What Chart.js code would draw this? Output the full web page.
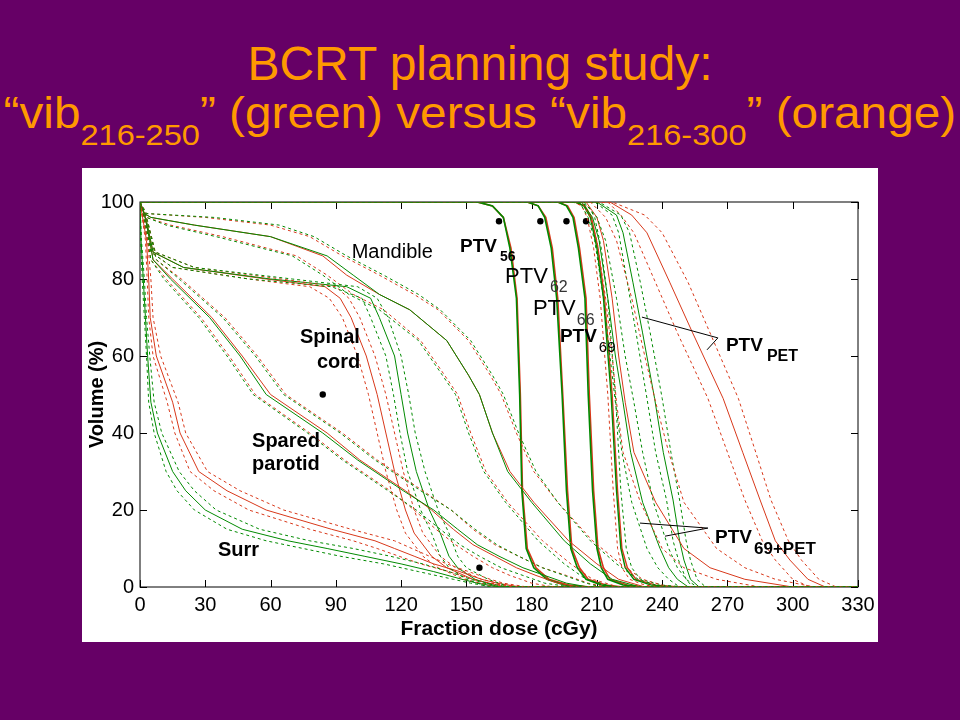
<!DOCTYPE html>
<html>
<head>
<meta charset="utf-8">
<script src="https://cdn.jsdelivr.net/npm/chart.js@4.4.1/dist/chart.umd.min.js"></script>
<style>
  html, body { margin: 0; padding: 0; }
  body { width: 960px; height: 720px; background: #660066; position: relative; overflow: hidden;
         font-family: "Liberation Sans", Arial, sans-serif; }
  .title { position: absolute; left: 0; width: 960px; text-align: center; color: #ff9900;
           white-space: nowrap; transform-origin: 482px 0; }
  .t1 { top: 40px; font-size: 48px; line-height: 48px; }
  .t2 { top: 91px; font-size: 44px; line-height: 44px; transform: scaleX(1.085); }
  .t2 sub { font-size: 30px; position: relative; top: 17px; vertical-align: baseline; line-height: 0; }
  #panel { position: absolute; left: 82px; top: 168px; width: 796px; height: 474px; background: #fff; }
</style>
</head>
<body>
<div class="title t1">BCRT planning study:</div>
<div class="title t2">&ldquo;vib<sub>216-250</sub>&rdquo; (green) versus &ldquo;vib<sub>216-300</sub>&rdquo; (orange)</div>
<div id="panel"><canvas id="chart" width="796" height="474"></canvas></div>
<script>
// dose (cGy) at which each volume level (%) is reached
const xTicks = [0, 30, 60, 90, 120, 150, 180, 210, 240, 270, 300, 330]
const yTicks = [0, 20, 40, 60, 80, 100]

const surrVol = [100, 90, 80, 70, 60, 48, 40, 30, 25, 20, 15, 12, 10, 8, 6, 4, 2, 1, 0, 0]
const surrG   = [0, 0.5, 1.5, 2.5, 3.5, 5, 8, 15, 21, 30, 47, 68, 86, 103, 120, 135, 148, 155, 165, 330]
const surrGHi = [0, 0.7, 2, 3, 4.5, 6.5, 10, 18, 25, 35, 55, 78, 98, 115, 130, 142, 152, 158, 170, 330]
const surrGLo = [0, 0.3, 1, 2, 3, 4, 6.5, 12, 17, 25, 40, 58, 75, 92, 112, 128, 144, 152, 162, 330]
const surrR   = [0, 3, 4, 4.7, 7.5, 15, 18.4, 27, 40, 58, 88, 108, 117, 126, 135, 147, 157, 164, 175, 330]
const surrRHi = [0, 3.5, 5, 6, 9.5, 17.5, 21, 31, 46, 66, 97, 117, 125, 133, 141, 151, 161, 167, 178, 330]
const surrRLo = [0, 2.5, 3.3, 4, 6, 12.5, 16, 23, 34, 50, 78, 98, 109, 119, 129, 142, 153, 161, 172, 330]

const parVol = [100, 97, 90, 85, 80, 70, 60, 50, 40, 33, 25, 20, 15, 11, 8, 5, 3, 1, 0, 0]
const parG   = [0, 2, 4.5, 6, 14, 32, 46, 58, 84, 100, 121, 135, 146, 155, 165, 176, 186, 196, 206, 330]
const parGHi = [0, 2.5, 5.5, 7.5, 18, 38, 53, 66, 92, 108, 129, 143, 154, 164, 174, 185, 195, 205, 212, 330]
const parGLo = [0, 1.5, 3.5, 5, 11, 27, 40, 52, 77, 93, 114, 127, 138, 147, 156, 166, 176, 186, 198, 330]
const parR   = [0, 2, 4.5, 6, 15, 33, 47, 60, 86, 101, 122, 134, 144, 153, 163, 173, 182, 192, 202, 330]
const parRHi = [0, 2.5, 5.5, 7.5, 19, 39, 54, 67, 93, 109, 130, 143, 153, 163, 174, 185, 196, 206, 214, 330]
const parRLo = [0, 1.5, 3.5, 5, 12, 28, 41, 53, 78, 94, 115, 126, 136, 145, 153, 162, 170, 180, 190, 330]

const cordVol = [100, 95, 87, 83, 80, 78, 75, 70, 60, 50, 40, 30, 20, 14, 8, 5, 2, 0, 0]
const cordG   = [0, 3, 6, 20, 60, 95, 106, 110, 117, 120, 123, 127, 133, 138, 142, 146, 154, 165, 330]
const cordGHi = [0, 3.5, 7, 25, 70, 100, 109, 114, 120, 123.5, 126.5, 131, 137, 142, 146, 150, 160, 170, 330]
const cordGLo = [0, 2.5, 5, 15, 50, 88, 102, 106, 113, 116.5, 119.5, 123, 129, 134, 138, 142, 150, 160, 330]
const cordR   = [0, 3, 6, 20, 58, 85, 92, 97, 104, 109, 113, 117, 122, 126, 134, 141, 153, 168, 330]
const cordRHi = [0, 3.5, 7, 25, 65, 90, 96, 101, 108, 113, 117, 121, 126, 130, 138, 145, 157, 172, 330]
const cordRLo = [0, 2.5, 5, 15, 50, 78, 87, 93, 100, 105, 109, 113, 118, 122, 130, 137, 149, 164, 330]

const manVol = [100, 97, 96, 94, 91, 86, 81, 76, 72, 64, 55, 50, 40, 30, 22, 12, 6, 2, 0, 0]
const manG   = [0, 2, 5, 25, 60, 86, 98, 110, 124, 141, 151, 156, 162, 169, 180, 195, 207, 217, 230, 330]
const manGHi = [0, 3, 34, 64, 80, 95, 112, 128, 138, 152, 162, 167, 174, 182, 192, 207, 219, 229, 240, 330]
const manGLo = [0, 1.5, 3, 12, 35, 70, 84, 96, 110, 128, 139, 145, 151, 158, 168, 183, 195, 205, 218, 330]
const manR   = [0, 2, 5, 25, 60, 84, 95, 110, 124, 141, 151, 156, 162, 170, 181, 197, 210, 220, 232, 330]
const manRHi = [0, 3, 30, 60, 78, 93, 110, 126, 137, 151, 161, 166, 173, 181, 192, 208, 221, 231, 243, 330]
const manRLo = [0, 1.5, 3, 14, 38, 72, 86, 98, 112, 129, 140, 146, 152, 159, 169, 185, 198, 208, 220, 330]

const ptvVol = [100, 100, 99, 96, 88, 75, 50, 25, 10, 5, 2, 0.5, 0, 0]
const ptv56G = [0, 155, 162, 167, 170, 173, 174.5, 175.5, 177.5, 181, 187, 195, 205, 330]
const ptv56R = [0, 155, 162, 167, 170.5, 173.3, 174.8, 175.8, 178, 182, 188, 197, 207, 330]
const ptv62G = [0, 178, 183, 186, 189, 191.5, 194, 196, 198, 201, 205, 212, 220, 330]
const ptv62R = [0, 178, 183, 186.5, 189.5, 192, 194.3, 196.5, 198.5, 202, 206, 214, 222, 330]
const ptv66G = [0, 192, 196, 199, 201.5, 204.5, 206, 208, 210, 212, 215, 222, 230, 330]
const ptv66R = [0, 192, 196.5, 199.5, 202, 205, 206.5, 208.5, 210.5, 213, 216, 224, 232, 330]
const ptv69G = [0, 200, 204, 207, 210, 213, 216.5, 219, 221, 223, 227, 235, 245, 330]
const ptv69R = [0, 200, 204.5, 207.5, 210.5, 213.5, 217, 219.5, 221.5, 224, 228, 237, 248, 330]
const ptv69Hi = [0, 201, 206, 209, 212, 215, 218.5, 221, 223.5, 226, 230, 240, 250, 330]
const ptv69Lo = [0, 199, 203, 205.5, 208.5, 211.5, 215, 217.5, 219.5, 221.5, 225, 232, 240, 330]

const bothVol = [100, 100, 96, 90, 75, 60, 48, 35, 22, 10, 5, 2, 0, 0]
const bothG   = [0, 203, 208, 211, 215, 218.5, 222, 225.5, 231, 239, 243, 247, 252, 330]
const bothGHi = [0, 204, 210, 214, 219, 223, 227, 231, 236, 243, 247, 251, 256, 330]
const bothGLo = [0, 202, 206, 209, 213, 216, 218.5, 221.5, 226, 233, 238, 243, 248, 330]
const bothR   = [0, 205, 210, 213, 217, 220, 223, 227, 237, 250, 262, 278, 300, 330]
const bothRHi = [0, 207, 214, 219, 226, 232, 237, 243, 250, 265, 278, 292, 310, 330]
const bothRLo = [0, 203, 207, 210, 214, 217, 219, 222, 230, 240, 250, 265, 285, 330]

const petVol = [100, 100, 96.6, 92, 79, 66, 49, 35, 22.6, 12, 7, 2, 0, 0]
const petG   = [0, 210, 219, 222, 226.6, 231, 236.5, 240.5, 245, 248, 250, 253, 257, 330]
const petGHi = [0, 211, 221, 225, 230, 234.5, 240, 244, 248, 251, 253, 256, 260, 330]
const petGLo = [0, 209, 217, 220, 224, 228, 233, 237, 242, 245, 247.5, 251, 254, 330]
const petR   = [0, 216, 226, 233, 243.6, 254, 268, 277, 285, 292, 298.7, 307, 315, 330]
const petRHi = [0, 217, 232, 240, 252, 262, 275, 283, 290, 298, 304, 312, 320, 330]
const petRLo = [0, 215, 221, 227, 237, 247, 261, 270, 278, 286, 292, 300, 308, 330]

// constraint markers
const markerDose = [165, 184, 196, 205, 84, 156]
const markerVol  = [95, 95, 95, 95, 50, 5]

const GREEN = "#008a00"
const RED = "#d8381a"
const FONT = "'Liberation Sans', Arial, sans-serif"

const points = (dose, vol) => dose.map((d, i) => ({ x: d, y: vol[i] }))

function line(dose, vol, color, dashed, width) {
  return {
    type: "line",
    data: points(dose, vol),
    borderColor: color,
    borderWidth: width || 1,
    borderDash: dashed ? [3, 3] : [],
    pointRadius: 0,
    tension: 0,
    fill: false
  }
}

const groups = [
  [surrVol, surrG, surrGHi, surrGLo, surrR, surrRHi, surrRLo],
  [parVol, parG, parGHi, parGLo, parR, parRHi, parRLo],
  [cordVol, cordG, cordGHi, cordGLo, cordR, cordRHi, cordRLo],
  [manVol, manG, manGHi, manGLo, manR, manRHi, manRLo],
  [bothVol, bothG, bothGHi, bothGLo, bothR, bothRHi, bothRLo],
  [petVol, petG, petGHi, petGLo, petR, petRHi, petRLo]
]

const dashedSets = []
const solidSets = []
groups.forEach(([vol, g, gHi, gLo, r, rHi, rLo]) => {
  dashedSets.push(line(gHi, vol, GREEN, true), line(gLo, vol, GREEN, true))
  dashedSets.push(line(rHi, vol, RED, true), line(rLo, vol, RED, true))
  solidSets.push(line(g, vol, GREEN), line(r, vol, RED))
})
dashedSets.push(line(ptv69Hi, ptvVol, GREEN, true), line(ptv69Lo, ptvVol, RED, true))
solidSets.push(
  line(ptv56G, ptvVol, GREEN, false, 1.6), line(ptv56R, ptvVol, RED, false, 1.6),
  line(ptv62G, ptvVol, GREEN, false, 1.6), line(ptv62R, ptvVol, RED, false, 1.6),
  line(ptv66G, ptvVol, GREEN, false, 1.6), line(ptv66R, ptvVol, RED, false, 1.6),
  line(ptv69G, ptvVol, GREEN, false, 1.4), line(ptv69R, ptvVol, RED, false, 1.4)
)

const markers = {
  type: "scatter",
  data: points(markerDose, markerVol),
  pointRadius: 3.2,
  pointBackgroundColor: "#000",
  pointBorderWidth: 0
}

// text labels at data positions:
// [text, dose, vol, font, sub, subFont, subDrop, subGap, subColor]
const labels = [
  ["Mandible", 97.3, 85.4, "20px", "", "", 0, 0],
  ["PTV", 147.1, 87.1, "bold 19px", "56", "bold 14px", 9, 3, "#000"],
  ["PTV", 167.8, 78.9, "22px", "62", "16px", 9, 2, "#333"],
  ["PTV", 180.6, 70.6, "22px", "66", "16px", 10, 1, "#333"],
  ["PTV", 193, 63.7, "bold 19px", "69", "15px", 10, 2, "#000"],
  ["Spinal", 73.5, 63.3, "bold 20px", "", "", 0, 0],
  ["cord", 81.3, 56.9, "bold 20px", "", "", 0, 0],
  ["Spared", 51.5, 36.4, "bold 20px", "", "", 0, 0],
  ["parotid", 51.5, 30.4, "bold 20px", "", "", 0, 0],
  ["Surr", 35.8, 8.05, "bold 20px", "", "", 0, 0],
  ["PTV", 269.3, 61.4, "bold 19px", "PET", "bold 16px", 10, 4, "#000"],
  ["PTV", 264.3, 11.5, "bold 19px", "69+PET", "bold 17px", 11, 2, "#000"]
]
// leader lines from label tips: [fromDose, fromVol, toDose, toVol]
const leaders = [
  [265.6, 64.7, 230.7, 70.1],
  [265.6, 64.7, 260.6, 61.6],
  [261, 15.3, 229.8, 16.6],
  [261, 15.3, 241.3, 13.2]
]

const framePlugin = {
  id: "frame",
  beforeDatasetsDraw(chart) {
    const { ctx, chartArea: a, scales: { x, y } } = chart
    ctx.save()
    ctx.strokeStyle = "#000"
    ctx.lineWidth = 1
    ctx.strokeRect(a.left, a.top, a.right - a.left, a.bottom - a.top)
    ctx.beginPath()
    xTicks.forEach(v => {
      const px = Math.round(x.getPixelForValue(v)) + 0.5
      ctx.moveTo(px, a.bottom); ctx.lineTo(px, a.bottom - 7)
      ctx.moveTo(px, a.top); ctx.lineTo(px, a.top + 7)
    })
    yTicks.forEach(v => {
      const py = Math.round(y.getPixelForValue(v)) + 0.5
      ctx.moveTo(a.left, py); ctx.lineTo(a.left + 7, py)
      ctx.moveTo(a.right, py); ctx.lineTo(a.right - 7, py)
    })
    ctx.stroke()
    ctx.restore()
  },
  afterDatasetsDraw(chart) {
    const { ctx, scales: { x, y } } = chart
    ctx.save()
    ctx.textBaseline = "alphabetic"
    ctx.textAlign = "left"
    labels.forEach(([text, d, v, font, sub, subFont, drop, gap, subColor]) => {
      const px = x.getPixelForValue(d)
      const py = y.getPixelForValue(v)
      ctx.fillStyle = "#000"
      ctx.font = font + " " + FONT
      ctx.fillText(text, px, py)
      if (sub) {
        const w = ctx.measureText(text).width
        ctx.font = subFont + " " + FONT
        ctx.fillStyle = subColor
        ctx.fillText(sub, px + w + gap, py + drop)
      }
    })
    ctx.strokeStyle = "#000"
    ctx.lineWidth = 1
    ctx.beginPath()
    leaders.forEach(([d1, v1, d2, v2]) => {
      ctx.moveTo(x.getPixelForValue(d1), y.getPixelForValue(v1))
      ctx.lineTo(x.getPixelForValue(d2), y.getPixelForValue(v2))
    })
    ctx.stroke()
    ctx.restore()
  }
}

new Chart(document.getElementById("chart"), {
  type: "line",
  data: { datasets: [...dashedSets, ...solidSets, markers] },
  plugins: [framePlugin],
  options: {
    responsive: false,
    animation: false,
    devicePixelRatio: 1,
    layout: { padding: { top: 34, right: 20, left: 0, bottom: 0 } },
    plugins: { legend: { display: false }, tooltip: { enabled: false } },
    scales: {
      x: {
        type: "linear",
        min: 0,
        max: 330,
        afterFit: s => { s.height = 55; s.paddingLeft = 0; s.paddingRight = 0 },
        afterBuildTicks: s => { s.ticks = xTicks.map(v => ({ value: v })) },
        ticks: { color: "#000", font: { family: FONT, size: 20 }, padding: 6, maxRotation: 0 },
        grid: { display: false, tickLength: 0 },
        border: { display: false },
        title: { display: true, text: "Fraction dose (cGy)", color: "#000",
                 font: { family: FONT, size: 21, weight: "bold" }, padding: { top: 0, bottom: 0 } }
      },
      y: {
        min: 0,
        max: 100,
        afterFit: s => { s.width = 58; s.paddingTop = 0; s.paddingBottom = 0 },
        afterBuildTicks: s => { s.ticks = yTicks.map(v => ({ value: v })) },
        ticks: { color: "#000", font: { family: FONT, size: 20 }, padding: 6 },
        grid: { display: false, tickLength: 0 },
        border: { display: false },
        title: { display: true, text: "Volume (%)", color: "#000",
                 font: { family: FONT, size: 20, weight: "bold" }, padding: { top: 3, bottom: 0 } }
      }
    }
  }
})
</script>
</body>
</html>
